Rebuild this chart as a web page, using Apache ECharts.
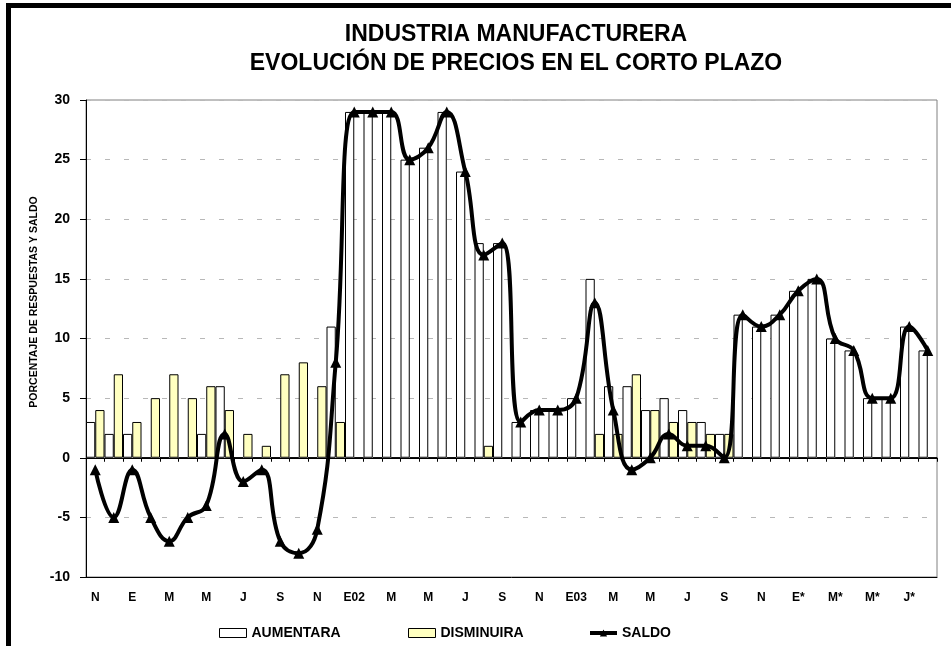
<!DOCTYPE html>
<html>
<head>
<meta charset="utf-8">
<script src="https://cdn.jsdelivr.net/npm/echarts@6/dist/echarts.min.js"></script>
<style>
    html, body { margin: 0; padding: 0; background: #fff; }
    #chart { width: 951px; height: 646px; }
</style>
</head>
<body>
<div id="chart"></div>
<script>
// meses (nov 2000 - ago 2004), solo se rotulan los pares
var months = ['N','D','E','F','M','A','M','J','J','A','S','O',
    'N','D','E02','F','M','A','M','J','J','A','S','O',
    'N','D','E03','F','M','A','M','J','J','A','S','O',
    'N','D','E*','F*','M*','A*','M*','J*','J*','A*'];

var aumentara = [3,2,2,0,0,0,2,6,0,0,0,0,
    0,11,29,29,29,25,26,29,24,18,18,3,
    4,4,5,15,6,6,4,5,4,3,2,12,
    11,12,14,15,10,9,5,5,11,9];

var disminuira = [4,7,3,5,7,5,6,4,2,1,7,8,
    6,3,0,0,0,0,0,0,0,1,0,0,
    0,0,0,2,2,7,4,3,3,2,2,0,
    0,0,0,0,0,0,0,0,0,0];

var saldo = [-1,-5,-1,-5,-7,-5,-4,2,-2,-1,-7,-8,
    -6,8,29,29,29,25,26,29,24,17,18,3,
    4,4,5,13,4,-1,0,2,1,1,0,12,
    11,12,14,15,10,9,5,5,11,9];

var FONT = '"Liberation Sans", Arial, sans-serif';

var myChart = echarts.init(document.getElementById('chart'));

function legendAt(left, name, icon){
    var lg = {
        data: [{ name: name }],
        left: left,
        top: 626,
        padding: 0,
        itemWidth: 27,
        itemHeight: 9,
        selectedMode: false,
        itemStyle: { borderWidth: 1 },
        lineStyle: { width: 4 },
        textStyle: { fontFamily: FONT, fontSize: 14, fontWeight: 'bold', color: '#000' }
    };
    if(icon){
        lg.data[0].icon = icon;
    }
    return lg;
}

var option = {
    animation: false,
    backgroundColor: '#fff',
    title: {
        text: 'INDUSTRIA MANUFACTURERA\nEVOLUCIÓN DE PRECIOS EN EL CORTO PLAZO',
        left: 511,
        textAlign: 'center',
        top: 15,
        textStyle: { fontFamily: FONT, fontSize: 23, fontWeight: 'bold', color: '#000', lineHeight: 29 }
    },
    legend: [
        legendAt(219, 'AUMENTARA', 'rect'),
        legendAt(408, 'DISMINUIRA', 'rect'),
        legendAt(588, 'SALDO')
    ],
    grid: {
        left: 86, right: 14, top: 100, bottom: 69,
        show: true,
        borderColor: '#808080',
        borderWidth: 1
    },
    graphic: [
        // marco exterior (recortado a la derecha y abajo)
        { type: 'rect', left: 6, top: 3, shape: { width: 945, height: 5 }, style: { fill: '#000' } },
        { type: 'rect', left: 6, top: 3, shape: { width: 5, height: 643 }, style: { fill: '#000' } },
        {
            type: 'text', x: 34, y: 302, rotation: Math.PI / 2,
            style: {
                text: 'PORCENTAJE DE RESPUESTAS Y SALDO',
                font: 'bold 10.5px ' + FONT,
                fill: '#000',
                align: 'center',
                verticalAlign: 'middle'
            }
        }
    ],
    xAxis: [{
        type: 'category',
        data: months,
        axisLine: { onZero: true, lineStyle: { color: '#000', width: 1 } },
        axisTick: { show: true, length: 4, interval: 0, lineStyle: { color: '#000' } },
        axisLabel: { show: false },
        splitLine: { show: false }
    }, {
        type: 'category',
        data: months,
        position: 'bottom',
        axisLine: { onZero: false, lineStyle: { color: '#000', width: 1 } },
        axisTick: { show: false },
        axisLabel: {
            interval: 1,
            margin: 15,
            color: '#000',
            fontFamily: FONT,
            fontSize: 12,
            fontWeight: 'bold'
        }
    }],
    yAxis: {
        type: 'value',
        min: -10,
        max: 30,
        interval: 5,
        axisLine: { show: true, lineStyle: { color: '#000', width: 1 } },
        axisTick: { show: true, length: 6, lineStyle: { color: '#000' } },
        axisLabel: {
            margin: 16,
            color: '#000',
            fontFamily: FONT,
            fontSize: 14,
            fontWeight: 'bold'
        },
        splitLine: { lineStyle: { color: '#b8b8b8', type: [5, 14], width: 1 } }
    },
    series: [{
        name: 'AUMENTARA',
        type: 'bar',
        data: aumentara,
        barGap: '0%',
        barCategoryGap: '0%',
        itemStyle: { color: '#ffffff', borderColor: '#000', borderWidth: 1 }
    }, {
        name: 'DISMINUIRA',
        type: 'bar',
        data: disminuira,
        barGap: '0%',
        barCategoryGap: '0%',
        itemStyle: { color: '#ffffc0', borderColor: '#000', borderWidth: 1 }
    }, {
        name: 'SALDO',
        type: 'line',
        data: saldo,
        smooth: 0.45,
        z: 5,
        symbol: 'triangle',
        symbolSize: 11,
        lineStyle: { color: '#000', width: 4 },
        itemStyle: { color: '#000' }
    }]
};

myChart.setOption(option);
</script>
</body>
</html>
